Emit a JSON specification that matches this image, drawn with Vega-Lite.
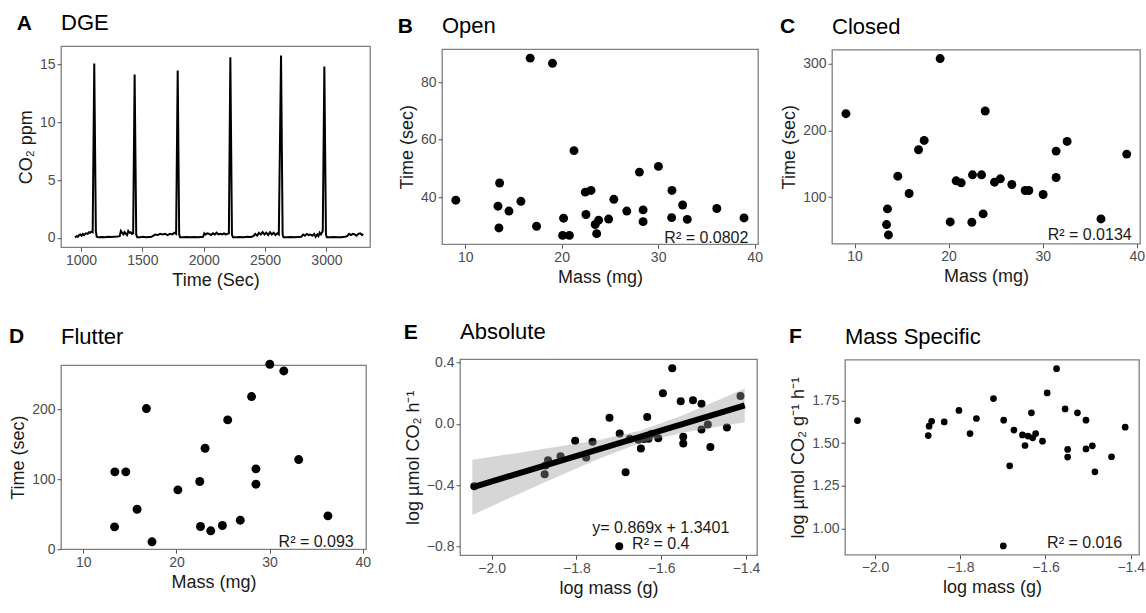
{
"$schema": "https://vega.github.io/schema/vega-lite/v6.json",
"background": "white",
"padding": {"left": 8, "top": 11, "right": 0, "bottom": 0},
"config": {
  "font": "Liberation Sans",
  "view": {"stroke": "#7f7f7f", "strokeWidth": 1.3},
  "axis": {"grid": false, "domain": false, "ticks": true, "tickColor": "#555555", "tickSize": 4, "tickWidth": 1, "labelColor": "#4d4d4d", "labelFont": "Liberation Sans", "labelFontSize": 14, "titleFont": "Liberation Sans", "titleFontSize": 18, "titleFontWeight": "normal", "titleColor": "#1a1a1a", "labelPadding": 2, "titlePadding": 4},
  "point": {"filled": true, "opacity": 1, "color": "black"},
  "text": {"font": "Liberation Sans", "fontSize": 16, "color": "#1a1a1a"}
},
"datasets": {
  "dge": [
    {"t":950,"c":0.05},{"t":965,"c":0.15},{"t":975,"c":0.1},{"t":985,"c":0.25},{"t":995,"c":0.3},{"t":1005,"c":0.2},{"t":1015,"c":0.35},{"t":1025,"c":0.25},{"t":1040,"c":0.4},{"t":1055,"c":0.35},{"t":1065,"c":0.5},{"t":1075,"c":0.45},{"t":1085,"c":0.55},{"t":1095,"c":0.5},{"t":1108,"c":15.1},{"t":1121,"c":0.6},{"t":1128,"c":0.1},{"t":1145,"c":0.05},{"t":1170,"c":0.08},{"t":1195,"c":0.05},{"t":1220,"c":0.1},{"t":1245,"c":0.08},{"t":1270,"c":0.1},{"t":1295,"c":0.12},{"t":1315,"c":0.15},{"t":1325,"c":0.6},{"t":1335,"c":0.45},{"t":1345,"c":0.3},{"t":1355,"c":0.5},{"t":1365,"c":0.35},{"t":1375,"c":0.25},{"t":1385,"c":0.6},{"t":1395,"c":0.45},{"t":1405,"c":0.5},{"t":1415,"c":0.35},{"t":1425,"c":0.4},{"t":1437,"c":14.15},{"t":1450,"c":0.3},{"t":1458,"c":0.05},{"t":1480,"c":0.05},{"t":1505,"c":0.1},{"t":1530,"c":0.05},{"t":1555,"c":0.08},{"t":1575,"c":0.1},{"t":1590,"c":0.2},{"t":1605,"c":0.3},{"t":1625,"c":0.25},{"t":1645,"c":0.35},{"t":1665,"c":0.3},{"t":1685,"c":0.35},{"t":1705,"c":0.25},{"t":1725,"c":0.35},{"t":1745,"c":0.3},{"t":1760,"c":0.45},{"t":1775,"c":0.35},{"t":1788,"c":14.5},{"t":1800,"c":0.3},{"t":1808,"c":0.05},{"t":1830,"c":0.05},{"t":1860,"c":0.08},{"t":1890,"c":0.05},{"t":1920,"c":0.08},{"t":1950,"c":0.05},{"t":1975,"c":0.08},{"t":1995,"c":0.1},{"t":2005,"c":0.4},{"t":2015,"c":0.3},{"t":2030,"c":0.4},{"t":2045,"c":0.35},{"t":2060,"c":0.25},{"t":2075,"c":0.4},{"t":2090,"c":0.3},{"t":2105,"c":0.45},{"t":2120,"c":0.3},{"t":2135,"c":0.35},{"t":2150,"c":0.3},{"t":2165,"c":0.4},{"t":2180,"c":0.3},{"t":2195,"c":0.35},{"t":2205,"c":0.4},{"t":2217,"c":15.65},{"t":2230,"c":0.3},{"t":2238,"c":0.05},{"t":2265,"c":0.05},{"t":2295,"c":0.08},{"t":2325,"c":0.05},{"t":2355,"c":0.1},{"t":2385,"c":0.08},{"t":2405,"c":0.15},{"t":2420,"c":0.35},{"t":2435,"c":0.2},{"t":2450,"c":0.45},{"t":2465,"c":0.3},{"t":2480,"c":0.5},{"t":2495,"c":0.3},{"t":2510,"c":0.45},{"t":2525,"c":0.25},{"t":2540,"c":0.5},{"t":2555,"c":0.3},{"t":2570,"c":0.45},{"t":2585,"c":0.25},{"t":2600,"c":0.4},{"t":2612,"c":0.3},{"t":2630,"c":15.8},{"t":2643,"c":0.3},{"t":2650,"c":0.05},{"t":2680,"c":0.05},{"t":2710,"c":0.08},{"t":2740,"c":0.05},{"t":2770,"c":0.08},{"t":2795,"c":0.1},{"t":2810,"c":0.3},{"t":2825,"c":0.2},{"t":2840,"c":0.35},{"t":2855,"c":0.25},{"t":2870,"c":0.3},{"t":2885,"c":0.2},{"t":2900,"c":0.35},{"t":2912,"c":0.1},{"t":2925,"c":0.3},{"t":2935,"c":0.15},{"t":2945,"c":0.45},{"t":2955,"c":0.3},{"t":2970,"c":0.6},{"t":2983,"c":14.85},{"t":2996,"c":0.3},{"t":3003,"c":0.05},{"t":3030,"c":0.05},{"t":3060,"c":0.08},{"t":3090,"c":0.05},{"t":3120,"c":0.05},{"t":3150,"c":0.1},{"t":3170,"c":0.15},{"t":3185,"c":0.35},{"t":3200,"c":0.25},{"t":3215,"c":0.35},{"t":3230,"c":0.3},{"t":3245,"c":0.2},{"t":3260,"c":0.35},{"t":3275,"c":0.4},{"t":3290,"c":0.25},{"t":3300,"c":0.35}
  ],
  "open": [
    {"m":9.03,"s":38.9},{"m":13.57,"s":44.9},{"m":13.4,"s":36.8},{"m":13.5,"s":29.2},{"m":14.54,"s":35.1},{"m":15.78,"s":38.5},{"m":16.74,"s":88.5},{"m":17.4,"s":29.8},{"m":19.05,"s":86.7},{"m":20.2,"s":32.6},{"m":20.1,"s":26.6},{"m":20.8,"s":26.6},{"m":21.28,"s":56.2},{"m":22.45,"s":41.7},{"m":23.04,"s":42.3},{"m":22.52,"s":33.9},{"m":23.48,"s":30.4},{"m":23.83,"s":31.9},{"m":23.63,"s":27.2},{"m":24.87,"s":32.3},{"m":25.41,"s":39.2},{"m":26.75,"s":35.1},{"m":28.06,"s":48.7},{"m":28.44,"s":35.5},{"m":28.44,"s":31.4},{"m":30.03,"s":50.7},{"m":31.43,"s":42.3},{"m":31.4,"s":32.8},{"m":32.54,"s":37.2},{"m":33.02,"s":32.2},{"m":36.08,"s":36.0},{"m":38.9,"s":32.7}
  ],
  "closed": [
    {"m":9.08,"s":225},{"m":19.1,"s":307.5},{"m":23.89,"s":229},{"m":16.8,"s":171},{"m":17.4,"s":185},{"m":14.6,"s":131.5},{"m":15.8,"s":105.5},{"m":13.5,"s":82.5},{"m":13.4,"s":59},{"m":13.6,"s":43.5},{"m":20.17,"s":63},{"m":20.8,"s":124.5},{"m":21.34,"s":121.5},{"m":22.54,"s":133.5},{"m":22.47,"s":62.5},{"m":23.5,"s":133.5},{"m":23.67,"s":75},{"m":24.88,"s":122.5},{"m":25.5,"s":127.5},{"m":26.72,"s":119},{"m":28.14,"s":110},{"m":28.53,"s":110},{"m":30.05,"s":104},{"m":31.43,"s":129.5},{"m":31.43,"s":169},{"m":32.6,"s":183.5},{"m":36.2,"s":67.5},{"m":38.94,"s":164.5}
  ],
  "flutter": [
    {"m":13.38,"s":110.5},{"m":14.56,"s":110.5},{"m":13.35,"s":31.9},{"m":15.77,"s":57.1},{"m":16.77,"s":201},{"m":17.37,"s":10.5},{"m":20.15,"s":84.8},{"m":22.5,"s":96.7},{"m":22.58,"s":32.4},{"m":23.07,"s":144.3},{"m":23.68,"s":26.2},{"m":24.93,"s":33.8},{"m":25.5,"s":184.8},{"m":26.85,"s":41.4},{"m":28.06,"s":218.1},{"m":28.53,"s":114.8},{"m":28.53,"s":92.9},{"m":30.02,"s":264.3},{"m":31.52,"s":254.8},{"m":33.12,"s":128.1},{"m":36.26,"s":47.6}
  ],
  "metab": [
    {"lm":-2.041,"la":-0.408,"ls":1.633},{"lm":-1.875,"la":-0.330,"ls":1.545},{"lm":-1.873,"la":-0.273,"ls":1.600},{"lm":-1.867,"la":-0.238,"ls":1.629},{"lm":-1.8375,"la":-0.2125,"ls":1.625},{"lm":-1.803,"la":-0.111,"ls":1.692},{"lm":-1.777,"la":-0.220,"ls":1.557},{"lm":-1.762,"la":-0.117,"ls":1.645},{"lm":-1.722,"la":0.040,"ls":1.762},{"lm":-1.698,"la":-0.063,"ls":1.635},{"lm":-1.684,"la":-0.316,"ls":1.368},{"lm":-1.674,"la":-0.097,"ls":1.577},{"lm":-1.654,"la":-0.105,"ls":1.549},{"lm":-1.648,"la":-0.161,"ls":1.487},{"lm":-1.641,"la":-0.099,"ls":1.542},{"lm":-1.633,"la":0.045,"ls":1.678},{"lm":-1.630,"la":-0.098,"ls":1.532},{"lm":-1.623,"la":-0.066,"ls":1.557},{"lm":-1.607,"la":-0.095,"ls":1.512},{"lm":-1.596,"la":0.199,"ls":1.795},{"lm":-1.574,"la":0.363,"ls":1.937},{"lm":-1.554,"la":0.147,"ls":1.701},{"lm":-1.548,"la":-0.084,"ls":1.464},{"lm":-1.548,"la":-0.129,"ls":1.419},{"lm":-1.525,"la":0.153,"ls":1.678},{"lm":-1.505,"la":0.130,"ls":1.635},{"lm":-1.505,"la":-0.038,"ls":1.467},{"lm":-1.490,"la":-0.005,"ls":1.485},{"lm":-1.484,"la":-0.151,"ls":1.333},{"lm":-1.445,"la":-0.024,"ls":1.421},{"lm":-1.413,"la":0.181,"ls":1.594},{"lm":-1.699,"la":-0.800,"ls":0.899}
  ],
  "fit": [
    {"x":-2.0455,"fit":-0.415,"lo":-0.595,"hi":-0.235},{"x":-1.95,"fit":-0.335,"lo":-0.475,"hi":-0.195},{"x":-1.85,"fit":-0.252,"lo":-0.352,"hi":-0.152},{"x":-1.75,"fit":-0.169,"lo":-0.231,"hi":-0.107},{"x":-1.65,"fit":-0.086,"lo":-0.126,"hi":-0.046},{"x":-1.55,"fit":-0.002,"lo":-0.058,"hi":0.054},{"x":-1.45,"fit":0.081,"lo":-0.011,"hi":0.173},{"x":-1.403,"fit":0.12,"lo":0.01,"hi":0.23}
  ]
},
"spacing": 30,
"columns": 1,
"align": "none",
"concat": [
  {
    "spacing": 26, "center": true,
    "hconcat": [
      {
        "title": {"text": "A", "font": "Liberation Sans", "fontSize": 21, "fontWeight": "bold", "anchor": "start", "frame": "bounds", "baseline": "alphabetic", "offset": -39, "color": "black"},
        "vconcat": [{
          "title": {"text": "DGE", "font": "Liberation Sans", "fontSize": 22, "fontWeight": "normal", "anchor": "start", "frame": "group", "baseline": "alphabetic", "offset": -6, "color": "black"},
          "width": 309, "height": 201,
          "data": {"name": "dge"},
          "mark": {"type": "line", "color": "black", "strokeWidth": 2},
          "encoding": {
            "x": {"field": "t", "type": "quantitative", "scale": {"domain": [837, 3355], "nice": false, "zero": false}, "axis": {"title": "Time (Sec)", "values": [1000, 1500, 2000, 2500, 3000], "format": "d"}},
            "y": {"field": "c", "type": "quantitative", "scale": {"domain": [-0.8, 16.6], "nice": false, "zero": false}, "axis": {"title": "CO₂ ppm", "values": [0, 5, 10, 15]}}
          }
        }]
      },
      {
        "spacing": 15, "center": true,
        "hconcat": [
          {
            "title": {"text": "B", "font": "Liberation Sans", "fontSize": 21, "fontWeight": "bold", "anchor": "start", "frame": "bounds", "baseline": "alphabetic", "offset": -39, "color": "black"},
            "vconcat": [{
              "title": {"text": "Open", "font": "Liberation Sans", "fontSize": 22, "fontWeight": "normal", "anchor": "start", "frame": "group", "baseline": "alphabetic", "offset": -6, "color": "black"},
              "width": 316, "height": 195,
              "layer": [
                {
                  "data": {"name": "open"},
                  "mark": {"type": "point", "size": 80},
                  "encoding": {
                    "x": {"field": "m", "type": "quantitative", "scale": {"domain": [7.6, 40.35], "nice": false, "zero": false}, "axis": {"title": "Mass (mg)", "values": [10, 20, 30, 40]}},
                    "y": {"field": "s", "type": "quantitative", "scale": {"domain": [23.5, 91.6], "nice": false, "zero": false}, "axis": {"title": "Time (sec)", "values": [40, 60, 80]}}
                  }
                },
                {
                  "data": {"values": [{}]},
                  "mark": {"type": "text", "align": "center", "baseline": "alphabetic"},
                  "encoding": {"x": {"datum": 35}, "y": {"datum": 24}, "text": {"value": "R² = 0.0802"}}
                }
              ]
            }]
          },
          {
            "title": {"text": "C", "font": "Liberation Sans", "fontSize": 21, "fontWeight": "bold", "anchor": "start", "frame": "bounds", "baseline": "alphabetic", "offset": -39, "color": "black"},
            "vconcat": [{
              "title": {"text": "Closed", "font": "Liberation Sans", "fontSize": 22, "fontWeight": "normal", "anchor": "start", "frame": "group", "baseline": "alphabetic", "offset": -6, "color": "black"},
              "width": 308, "height": 194,
              "layer": [
                {
                  "data": {"name": "closed"},
                  "mark": {"type": "point", "size": 80},
                  "encoding": {
                    "x": {"field": "m", "type": "quantitative", "scale": {"domain": [7.6, 40.35], "nice": false, "zero": false}, "axis": {"title": "Mass (mg)", "values": [10, 20, 30, 40]}},
                    "y": {"field": "s", "type": "quantitative", "scale": {"domain": [30.3, 320.7], "nice": false, "zero": false}, "axis": {"title": "Time (sec)", "values": [100, 200, 300]}}
                  }
                },
                {
                  "data": {"values": [{}]},
                  "mark": {"type": "text", "align": "center", "baseline": "alphabetic"},
                  "encoding": {"x": {"datum": 35}, "y": {"datum": 35.6}, "text": {"value": "R² = 0.0134"}}
                }
              ]
            }]
          }
        ]
      }
    ]
  },
  {
    "spacing": 31, "center": true,
    "hconcat": [
      {
        "title": {"text": "D", "font": "Liberation Sans", "fontSize": 21, "fontWeight": "bold", "anchor": "start", "frame": "bounds", "baseline": "alphabetic", "offset": -39, "color": "black"},
        "vconcat": [{
          "title": {"text": "Flutter", "font": "Liberation Sans", "fontSize": 22, "fontWeight": "normal", "anchor": "start", "frame": "group", "baseline": "alphabetic", "offset": -6, "color": "black"},
          "width": 305, "height": 184,
          "layer": [
            {
              "data": {"name": "flutter"},
              "mark": {"type": "point", "size": 80},
              "encoding": {
                "x": {"field": "m", "type": "quantitative", "scale": {"domain": [7.6, 40.35], "nice": false, "zero": false}, "axis": {"title": "Mass (mg)", "values": [10, 20, 30, 40]}},
                "y": {"field": "s", "type": "quantitative", "scale": {"domain": [0, 263], "nice": false, "zero": false}, "axis": {"title": "Time (sec)", "values": [0, 100, 200]}}
              }
            },
            {
              "data": {"values": [{}]},
              "mark": {"type": "text", "align": "center", "baseline": "alphabetic"},
              "encoding": {"x": {"datum": 35}, "y": {"datum": 3.3}, "text": {"value": "R² = 0.093"}}
            }
          ]
        }]
      },
      {
        "spacing": 28, "center": true,
        "hconcat": [
          {
            "title": {"text": "E", "font": "Liberation Sans", "fontSize": 21, "fontWeight": "bold", "anchor": "start", "frame": "bounds", "baseline": "alphabetic", "offset": -39, "color": "black"},
            "vconcat": [{
              "title": {"text": "Absolute", "font": "Liberation Sans", "fontSize": 22, "fontWeight": "normal", "anchor": "start", "frame": "group", "baseline": "alphabetic", "offset": -6, "color": "black"},
              "width": 297, "height": 196,
              "layer": [
                {
                  "data": {"name": "metab"},
                  "mark": {"type": "point", "size": 64},
                  "encoding": {
                    "x": {"field": "lm", "type": "quantitative", "scale": {"domain": [-2.0747, -1.374], "nice": false, "zero": false}, "axis": {"title": "log mass (g)", "values": [-2.0, -1.8, -1.6, -1.4], "format": ".1f"}},
                    "y": {"field": "la", "type": "quantitative", "scale": {"domain": [-0.858, 0.421], "nice": false, "zero": false}, "axis": {"title": "log µmol CO₂ h⁻¹", "values": [-0.8, -0.4, 0.0, 0.4], "format": ".1f"}}
                  }
                },
                {
                  "data": {"name": "fit"},
                  "mark": {"type": "area", "color": "#999999", "opacity": 0.4},
                  "encoding": {"x": {"field": "x", "type": "quantitative"}, "y": {"field": "lo", "type": "quantitative"}, "y2": {"field": "hi"}}
                },
                {
                  "data": {"name": "fit"},
                  "mark": {"type": "line", "color": "black", "strokeWidth": 6},
                  "encoding": {"x": {"field": "x", "type": "quantitative"}, "y": {"field": "fit", "type": "quantitative"}}
                },
                {
                  "data": {"values": [{}]},
                  "mark": {"type": "text", "align": "center", "baseline": "alphabetic"},
                  "encoding": {"x": {"datum": -1.601}, "y": {"datum": -0.711}, "text": {"value": "y= 0.869x + 1.3401"}}
                },
                {
                  "data": {"values": [{}]},
                  "mark": {"type": "text", "align": "center", "baseline": "alphabetic"},
                  "encoding": {"x": {"datum": -1.601}, "y": {"datum": -0.817}, "text": {"value": "R² = 0.4"}}
                }
              ]
            }]
          },
          {
            "title": {"text": "F", "font": "Liberation Sans", "fontSize": 21, "fontWeight": "bold", "anchor": "start", "frame": "bounds", "baseline": "alphabetic", "offset": -39, "color": "black"},
            "vconcat": [{
              "title": {"text": "Mass Specific", "font": "Liberation Sans", "fontSize": 22, "fontWeight": "normal", "anchor": "start", "frame": "group", "baseline": "alphabetic", "offset": -6, "color": "black"},
              "width": 294, "height": 195,
              "layer": [
                {
                  "data": {"name": "metab"},
                  "mark": {"type": "point", "size": 45},
                  "encoding": {
                    "x": {"field": "lm", "type": "quantitative", "scale": {"domain": [-2.0703, -1.3806], "nice": false, "zero": false}, "axis": {"title": "log mass (g)", "values": [-2.0, -1.8, -1.6, -1.4], "format": ".1f"}},
                    "y": {"field": "ls", "type": "quantitative", "scale": {"domain": [0.847, 1.989], "nice": false, "zero": false}, "axis": {"title": "log µmol CO₂ g⁻¹ h⁻¹", "values": [1.0, 1.25, 1.5, 1.75], "format": ".2f"}}
                  }
                },
                {
                  "data": {"values": [{}]},
                  "mark": {"type": "text", "align": "center", "baseline": "alphabetic"},
                  "encoding": {"x": {"datum": -1.508}, "y": {"datum": 0.889}, "text": {"value": "R² = 0.016"}}
                }
              ]
            }]
          }
        ]
      }
    ]
  }
]
}
